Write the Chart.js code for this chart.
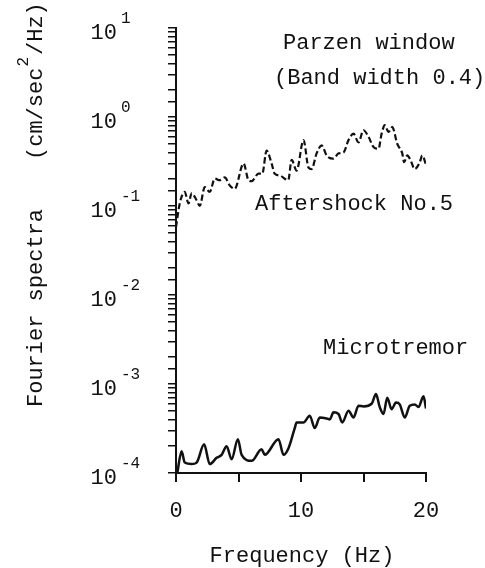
<!DOCTYPE html>
<html lang="en">
<head>
<meta charset="UTF-8">
<title>Fourier spectra</title>
<script src="https://cdn.jsdelivr.net/npm/chart.js"></script>
<style>
  body { margin: 0; background: #fff; }
</style>
</head>
<body>
<canvas id="spectraChart" width="485" height="568"></canvas>
<script>
// Aftershock No.5, Parzen window (band width 0.4)
const aftershockFreq = [0.0, 0.3, 0.7, 1.0, 1.25, 1.65, 1.9, 2.3, 2.7, 3.1, 3.5, 3.9, 4.3, 4.7, 5.4, 5.8, 6.05, 6.6, 6.9, 7.25, 7.65, 7.9, 8.3, 8.98, 9.25, 9.65, 10.2, 10.6, 10.85, 11.25, 11.65, 12.05, 12.6, 13.0, 13.4, 13.8, 14.2, 14.6, 15.0, 15.4, 15.8, 16.2, 16.45, 16.7, 17.0, 17.3, 17.7, 18.1, 18.25, 18.5, 18.75, 19.1, 19.5, 19.7, 20.0];
const aftershockAmp = [0.058, 0.107, 0.144, 0.107, 0.139, 0.116, 0.100, 0.163, 0.144, 0.203, 0.195, 0.21, 0.17, 0.156, 0.30, 0.195, 0.19, 0.231, 0.23, 0.42, 0.30, 0.23, 0.22, 0.195, 0.33, 0.25, 0.55, 0.27, 0.26, 0.39, 0.48, 0.37, 0.34, 0.39, 0.40, 0.55, 0.65, 0.52, 0.71, 0.60, 0.46, 0.44, 0.65, 0.81, 0.68, 0.77, 0.50, 0.39, 0.31, 0.37, 0.33, 0.26, 0.31, 0.37, 0.29];

// Microtremor
const microFreq = [0.1, 0.45, 0.7, 1.25, 1.65, 2.25, 2.7, 3.25, 3.65, 4.05, 4.45, 4.95, 5.25, 6.05, 6.85, 7.1, 8.2, 8.6, 9.0, 9.5, 9.65, 10.2, 10.7, 11.1, 11.5, 12.05, 12.3, 12.6, 13.0, 13.3, 13.8, 14.2, 14.6, 15.0, 15.65, 16.0, 16.3, 16.6, 16.9, 17.25, 17.6, 17.9, 18.3, 18.7, 19.1, 19.4, 19.8, 20.0];
const microAmp = [1.0e-4, 1.75e-4, 1.31e-4, 1.26e-4, 1.31e-4, 2.1e-4, 1.26e-4, 1.48e-4, 1.6e-4, 2.0e-4, 1.43e-4, 2.4e-4, 1.6e-4, 1.37e-4, 1.85e-4, 1.6e-4, 2.4e-4, 1.6e-4, 1.9e-4, 3.2e-4, 3.7e-4, 3.7e-4, 4.4e-4, 3.2e-4, 4.2e-4, 4.1e-4, 4.0e-4, 4.8e-4, 4.6e-4, 3.7e-4, 5.0e-4, 4.2e-4, 5.7e-4, 5.6e-4, 6.0e-4, 7.7e-4, 5.5e-4, 4.6e-4, 7.0e-4, 5.2e-4, 6.2e-4, 5.9e-4, 4.2e-4, 5.7e-4, 5.9e-4, 5.5e-4, 7.3e-4, 5.3e-4];

const xTickLabels = [0, 10, 20];
const yDecades = [-4, -3, -2, -1, 0, 1];

const FONT = "'Liberation Mono', 'Courier New', monospace";
const INK = '#111';

function toPoints(xs, ys) {
    return xs.map((x, i) => ({ x: x, y: ys[i] }));
}

// decade labels with superscripts, axis titles and the notes on the plot
const textPlugin = {
    id: 'textPlugin',
    afterDraw(chart) {
        const ctx = chart.ctx;
        const yScale = chart.scales.y;
        ctx.save();
        ctx.fillStyle = INK;
        ctx.textBaseline = 'middle';

        yDecades.forEach(n => {
            const py = yScale.getPixelForValue(Math.pow(10, n)) + 5;
            ctx.font = '22px ' + FONT;
            ctx.textAlign = 'right';
            ctx.fillText('10', 117, py);
            ctx.font = '16px ' + FONT;
            ctx.textAlign = 'left';
            ctx.fillText(String(n), 121, py - 14);
        });

        ctx.font = '22px ' + FONT;
        ctx.textAlign = 'left';
        ctx.fillText('Parzen window', 283, 43);
        ctx.fillText('(Band width 0.4)', 274, 78);
        ctx.fillText('Aftershock No.5', 255, 204);
        ctx.fillText('Microtremor', 323, 348);

        ctx.textAlign = 'center';
        ctx.fillText('Frequency (Hz)', 302, 556);

        // vertical title
        ctx.textAlign = 'left';
        ctx.save();
        ctx.translate(36, 407);
        ctx.rotate(-Math.PI / 2);
        ctx.fillText('Fourier spectra', 0, 0);
        ctx.restore();

        ctx.save();
        ctx.translate(36, 160);
        ctx.rotate(-Math.PI / 2);
        let pos = 0;
        ctx.fillText('(cm/sec', pos, 0);
        pos += ctx.measureText('(cm/sec').width;
        ctx.font = '16px ' + FONT;
        ctx.fillText('2', pos + 1, -12);
        pos += ctx.measureText('2').width + 3;
        ctx.font = '22px ' + FONT;
        ctx.fillText('/Hz)', pos, 0);
        ctx.restore();

        ctx.restore();
    }
};

new Chart(document.getElementById('spectraChart'), {
    type: 'line',
    data: {
        datasets: [
            {
                label: 'Aftershock No.5',
                data: toPoints(aftershockFreq, aftershockAmp),
                borderColor: INK,
                borderWidth: 2.2,
                borderDash: [6, 3],
                cubicInterpolationMode: 'monotone',
                pointRadius: 0,
                fill: false
            },
            {
                label: 'Microtremor',
                data: toPoints(microFreq, microAmp),
                borderColor: INK,
                borderWidth: 2.5,
                cubicInterpolationMode: 'monotone',
                pointRadius: 0,
                fill: false
            }
        ]
    },
    options: {
        responsive: false,
        animation: false,
        layout: { padding: { top: 28, right: 59, left: 0, bottom: 0 } },
        plugins: {
            legend: { display: false },
            tooltip: { enabled: false }
        },
        scales: {
            x: {
                type: 'linear',
                min: 0,
                max: 20,
                afterFit(scale) { scale.height = 95; },
                grid: { drawOnChartArea: false, tickLength: 9, color: INK, lineWidth: 2 },
                border: { color: INK, width: 2 },
                ticks: {
                    stepSize: 5,
                    autoSkip: false,
                    maxRotation: 0,
                    padding: 16,
                    color: INK,
                    font: { family: FONT, size: 22 },
                    callback: v => xTickLabels.includes(v) ? String(v) : ''
                }
            },
            y: {
                type: 'logarithmic',
                min: 1e-4,
                max: 10,
                afterFit(scale) { scale.width = 176; },
                grid: { drawOnChartArea: false, tickLength: 8, color: INK, lineWidth: 1.5 },
                border: { color: INK, width: 2 },
                ticks: { display: false, autoSkip: false }
            }
        }
    },
    plugins: [textPlugin]
});
</script>
</body>
</html>
